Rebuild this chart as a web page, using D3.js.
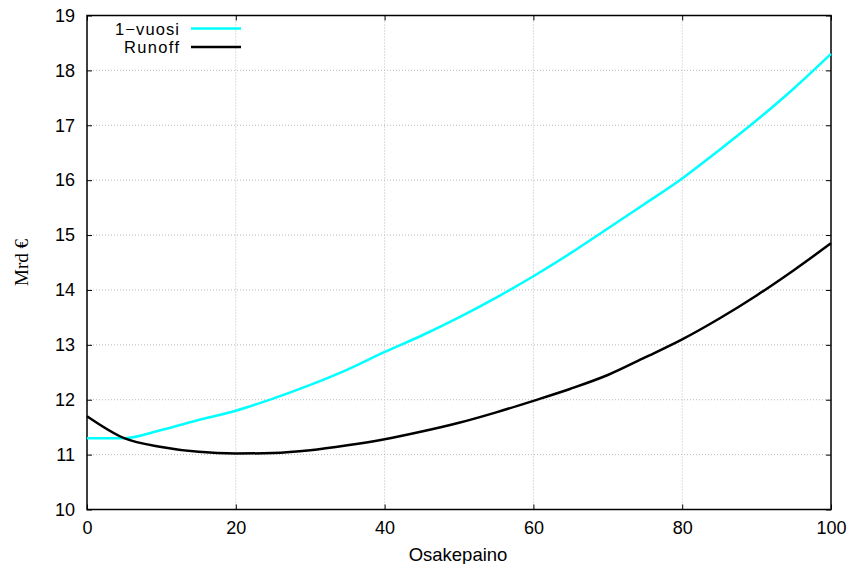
<!DOCTYPE html>
<html>
<head>
<meta charset="utf-8">
<script src="https://cdn.jsdelivr.net/npm/d3@7"></script>
<style>
  body { margin: 0; background: #fff; }
  svg text { font-family: "Liberation Sans", Arial, sans-serif; }
</style>
</head>
<body>
<div class="canvas"></div>
<script>
// data
const osakepaino = [0, 5, 10, 15, 20, 25, 30, 35, 40, 45, 50, 55, 60, 65, 70, 75, 80, 85, 90, 95, 100];
const vuosi1 = [11.30, 11.30, 11.45, 11.63, 11.80, 12.02, 12.27, 12.55, 12.87, 13.17, 13.50, 13.86, 14.25, 14.67, 15.12, 15.57, 16.03, 16.55, 17.09, 17.67, 18.30];
const runoff = [11.70, 11.30, 11.14, 11.05, 11.02, 11.03, 11.08, 11.17, 11.28, 11.42, 11.58, 11.77, 11.98, 12.20, 12.45, 12.77, 13.10, 13.48, 13.90, 14.36, 14.85];
const xTicks = [0, 20, 40, 60, 80, 100];
const yTicks = [10, 11, 12, 13, 14, 15, 16, 17, 18, 19];

const width = 851, height = 564;
const margin = {top: 15.5, right: 20, bottom: 54.5, left: 87};
const graphWidth = width - margin.left - margin.right;
const graphHeight = height - margin.top - margin.bottom;

const svg = d3.select('.canvas')
    .append('svg')
    .attr('width', width)
    .attr('height', height);

const graph = svg.append('g')
    .attr('transform', `translate(${margin.left},${margin.top})`);

const x = d3.scaleLinear().domain([0, 100]).range([0, graphWidth]);
const y = d3.scaleLinear().domain([10, 19]).range([graphHeight, 0]);

// grid
graph.append('g').selectAll('line').data(xTicks.slice(1, -1)).enter().append('line')
    .attr('x1', d => x(d)).attr('x2', d => x(d))
    .attr('y1', 0).attr('y2', graphHeight)
    .attr('stroke', '#bbb').attr('stroke-width', 1).attr('stroke-dasharray', '1,2');
graph.append('g').selectAll('line').data(yTicks.slice(1, -1)).enter().append('line')
    .attr('y1', d => y(d)).attr('y2', d => y(d))
    .attr('x1', 0).attr('x2', graphWidth)
    .attr('stroke', '#bbb').attr('stroke-width', 1).attr('stroke-dasharray', '1,2');

// axes (ticks inward, mirrored)
const tickLen = 5;
const xAxis = d3.axisBottom(x).tickValues(xTicks).tickSizeInner(-tickLen).tickSizeOuter(0).tickPadding(12);
const yAxis = d3.axisLeft(y).tickValues(yTicks).tickSizeInner(-tickLen).tickSizeOuter(0).tickPadding(12);

const xAxisGroup = graph.append('g').attr('transform', `translate(0,${graphHeight})`).call(xAxis);
const yAxisGroup = graph.append('g').call(yAxis);
graph.append('g').call(d3.axisTop(x).tickValues(xTicks).tickSizeInner(-tickLen).tickSizeOuter(0).tickFormat(''));
graph.append('g').attr('transform', `translate(${graphWidth},0)`)
    .call(d3.axisRight(y).tickValues(yTicks).tickSizeInner(-tickLen).tickSizeOuter(0).tickFormat(''));

svg.selectAll('.domain').remove();
svg.selectAll('.tick line').attr('stroke', '#000');
[xAxisGroup, yAxisGroup].forEach(g => g.selectAll('text')
    .attr('font-size', 18).attr('fill', '#000')
    .style('font-family', '"Liberation Sans", Arial, sans-serif'));
xAxisGroup.selectAll('text').attr('y', 24).attr('dy', 0);

// frame
graph.append('rect')
    .attr('width', graphWidth).attr('height', graphHeight)
    .attr('fill', 'none').attr('stroke', '#000').attr('stroke-width', 1.5);

// lines
const line = vals => d3.line().x((d, i) => x(osakepaino[i])).y(d => y(d)).curve(d3.curveMonotoneX)(vals);

graph.append('path').attr('d', line(vuosi1))
    .attr('fill', 'none').attr('stroke', '#00ffff').attr('stroke-width', 2.5);
graph.append('path').attr('d', line(runoff))
    .attr('fill', 'none').attr('stroke', '#000').attr('stroke-width', 2.5);

// legend
const legend = [{name: '1\u2212vuosi', color: '#00ffff'}, {name: 'Runoff', color: '#000'}];
const leg = svg.append('g').selectAll('g').data(legend).enter().append('g')
    .attr('transform', (d, i) => `translate(0,${28.5 + i * 18.5})`);
leg.append('text').text(d => d.name)
    .attr('x', 179).attr('y', 6).attr('text-anchor', 'end').attr('font-size', 16.5)
    .attr('textLength', d => d.name === 'Runoff' ? 55 : 64);
leg.append('line').attr('x1', 191).attr('x2', 241)
    .attr('stroke', d => d.color).attr('stroke-width', 2.5);

// axis titles
svg.append('text').text('Osakepaino')
    .attr('x', margin.left + graphWidth / 2 - 1).attr('y', 561)
    .attr('text-anchor', 'middle').attr('font-size', 18.5);
svg.append('text').text('Mrd \u20ac')
    .attr('transform', `translate(28,${margin.top + graphHeight / 2}) rotate(-90)`)
    .attr('text-anchor', 'middle').attr('font-size', 19)
    .style('font-family', '"Liberation Serif", "Times New Roman", serif');
</script>
</body>
</html>
